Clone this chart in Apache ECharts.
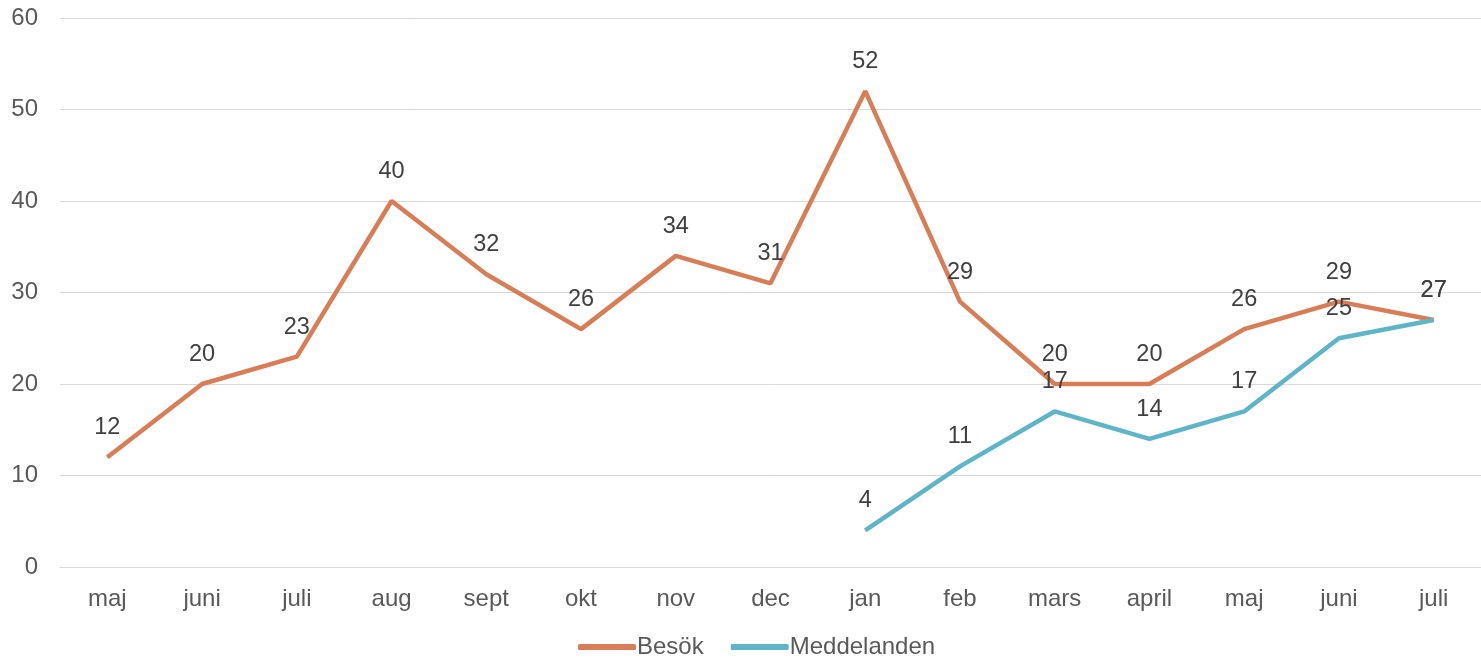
<!DOCTYPE html>
<html><head><meta charset="utf-8">
<script src="https://cdn.jsdelivr.net/npm/echarts@6/dist/echarts.min.js"></script>
<style>html,body{margin:0;padding:0;background:#fff}#c{width:1481px;height:659px}</style>
</head><body><div id="c"></div>
<script>
const categories = ['maj','juni','juli','aug','sept','okt','nov','dec','jan','feb','mars','april','maj','juni','juli'];
const besok = [12,20,23,40,32,26,34,31,52,29,20,20,26,29,27];
const meddelanden = [null,null,null,null,null,null,null,null,4,11,17,14,17,25,27];
const seriesNames = ['Besök','Meddelanden'];
const colors = ['#D97D57','#5FB5C8'];

const chart = echarts.init(document.getElementById('c'), null, {renderer:'canvas'});
const font = 'Liberation Sans, Arial, sans-serif';
function mk(name, data, color){
  return {
    name, type:'line', data, connectNulls:false,
    symbol:'circle', symbolSize:1, showSymbol:true,
    itemStyle:{color}, lineStyle:{color, width:4.5},
    label:{show:true, position:'top', distance:17, color:'#404040', fontSize:23.5, fontFamily:font},
    emphasis:{disabled:true}, animation:false
  };
}
chart.setOption({
  animation:false,
  grid:{left:60, right:0, top:18, bottom:92, containLabel:false},
  legend:{top:635, left:578, padding:0, itemWidth:58, itemHeight:6, itemGap:27, icon:'roundRect',
    textStyle:{color:'#595959', fontSize:24, fontFamily:font, padding:[0,0,0,-4]}, data:seriesNames},
  xAxis:{type:'category', data:categories, boundaryGap:true,
    axisLine:{show:true, lineStyle:{color:'#D9D9D9', width:1}}, axisTick:{show:false},
    axisLabel:{color:'#595959', fontSize:24, fontFamily:font, margin:20}},
  yAxis:{type:'value', min:0, max:60, interval:10,
    axisLine:{show:false}, axisTick:{show:false},
    splitLine:{lineStyle:{color:'#D9D9D9', width:1}},
    axisLabel:{color:'#595959', fontSize:24, fontFamily:font, margin:22}},
  series:[mk(seriesNames[0], besok, colors[0]), mk(seriesNames[1], meddelanden, colors[1])]
});
</script></body></html>
